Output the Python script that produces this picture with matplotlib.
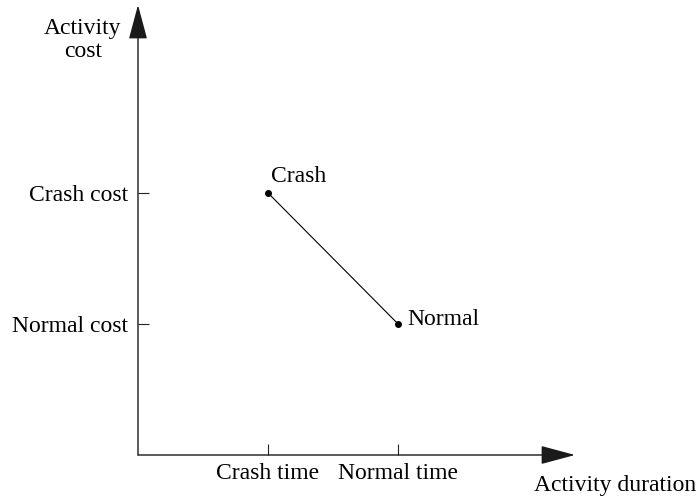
import matplotlib
matplotlib.use("Agg")
import matplotlib.pyplot as plt

# time-cost trade-off for one activity (abstract units)
duration = [1, 2]
cost = [2, 1]
point_labels = ["Crash", "Normal"]

x_ticks = [1, 2]
x_tick_labels = ["Crash time", "Normal time"]
y_ticks = [1, 2]
y_tick_labels = ["Normal cost", "Crash cost"]

x_max = 3.36
y_max = 3.435

plt.rcParams["font.family"] = ["Liberation Serif", "DejaVu Serif"]
plt.rcParams["font.size"] = 17

fig = plt.figure(figsize=(6.98, 4.99), dpi=100)
ax = fig.add_axes([138 / 698, 44 / 499, 437 / 698, 450 / 499])
ax.set_xlim(0, x_max)
ax.set_ylim(0, y_max)
ax.patch.set_visible(False)
for s in ax.spines.values():
    s.set_visible(False)

# axes with arrow heads
arrow = dict(arrowstyle="-|>,head_length=1.08,head_width=0.29", mutation_scale=20,
             color="#1a1a1a", lw=1.0, shrinkA=0, shrinkB=0)
ax.annotate("", xy=(0, y_max), xytext=(0, 0), arrowprops=arrow, annotation_clip=False)
ax.annotate("", xy=(x_max, 0), xytext=(0, 0), arrowprops=arrow, annotation_clip=False)

ax.set_xticks(x_ticks)
ax.set_xticklabels(x_tick_labels)
ax.set_yticks(y_ticks)
ax.set_yticklabels(y_tick_labels)
ax.tick_params(direction="in", length=8, width=0.8, color="#222222", pad=6)
ax.tick_params(axis="y", pad=7)

# the trade-off line
ax.plot(duration, cost, color="black", lw=0.8, marker="o", markersize=4, clip_on=False)
ax.annotate(point_labels[0], (duration[0], cost[0]), xytext=(3, 6),
            textcoords="offset pixels", ha="left", va="bottom")
ax.annotate(point_labels[1], (duration[1], cost[1]), xytext=(9, 4),
            textcoords="offset pixels", ha="left", va="center")

fig.text(83 / 698, 1 - 40 / 499, "Activity\ncost", ha="center", va="center",
         linespacing=1.15)
fig.text(615 / 698, 1 - 485 / 499, "Activity duration", ha="center", va="center")

fig.savefig("out.png", dpi=100)
